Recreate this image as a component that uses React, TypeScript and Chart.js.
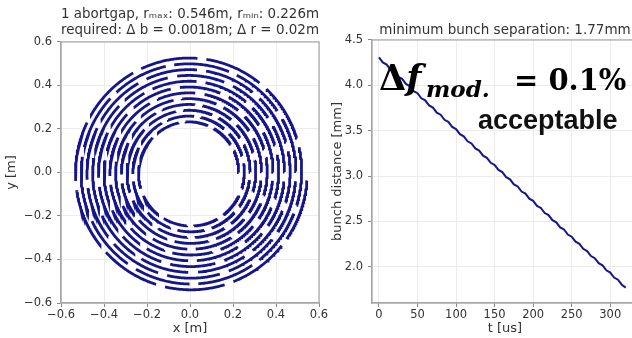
import React, { useEffect, useRef } from "react";
import { Chart, registerables } from "chart.js";

Chart.register(...registerables);

// ---------- data ----------
// spiral of the orbit (left panel)
const spiralRadii = [0.226, 0.546]; // r_min, r_max [m]
const spiralTurns = [12];
const spiralStartDeg = [0];
const spiralDashesPerTurn = [10.5];
const spiralGapFraction = [0.22, 0.11]; // gap share of a dash period, inner -> outer
const leftXTicks = [-0.6, -0.4, -0.2, 0.0, 0.2, 0.4, 0.6];
const leftYTicks = [-0.6, -0.4, -0.2, 0.0, 0.2, 0.4, 0.6];

// bunch distance over time (right panel)
const timeUs = [
  0, 5, 10, 15, 20, 25, 30, 35, 40, 45, 50, 55, 60, 65, 70, 75, 80, 85, 90, 95,
  100, 105, 110, 115, 120, 125, 130, 135, 140, 145, 150, 155, 160, 165, 170, 175,
  180, 185, 190, 195, 200, 205, 210, 215, 220, 225, 230, 235, 240, 245, 250, 255,
  260, 265, 270, 275, 280, 285, 290, 295, 300, 305, 310, 315, 320,
];
const bunchDistanceMm = [
  4.308, 4.252, 4.229, 4.173, 4.15, 4.094, 4.071, 4.015, 3.992, 3.936, 3.913,
  3.857, 3.834, 3.778, 3.755, 3.699, 3.676, 3.62, 3.597, 3.541, 3.517, 3.462,
  3.438, 3.383, 3.359, 3.304, 3.28, 3.225, 3.201, 3.146, 3.122, 3.067, 3.043,
  2.988, 2.964, 2.908, 2.885, 2.829, 2.806, 2.75, 2.727, 2.671, 2.648, 2.592,
  2.569, 2.513, 2.49, 2.434, 2.411, 2.355, 2.331, 2.276, 2.252, 2.197, 2.173,
  2.118, 2.094, 2.039, 2.015, 1.96, 1.936, 1.881, 1.857, 1.802, 1.77,
];
const rightXTicks = [0, 50, 100, 150, 200, 250, 300];
const rightYTicks = [2.0, 2.5, 3.0, 3.5, 4.0, 4.5];

const leftTitle = [
  "1 abortgap, r\u2098\u2090\u2093: 0.546m, r\u2098\u1D62\u2099: 0.226m",
  "required: \u0394 b = 0.0018m; \u0394 r = 0.02m",
];
const rightTitle = "minimum bunch separation: 1.77mm";

// ---------- style ----------
const NAVY = "#16168a";
const TEXT = "#333333";
const GRID = "#ececec";
const FRAME = "#a6a6a6";
const SANS = "'DejaVu Sans', sans-serif";

const fmt = (v: number) =>
  (Math.abs(v) < 1e-9 ? "0.0" : v.toFixed(1)).replace("-", "\u2212");

const framePlugin = {
  id: "frame",
  afterDatasetsDraw(chart: any) {
    const { ctx, chartArea } = chart;
    ctx.save();
    ctx.strokeStyle = FRAME;
    ctx.lineWidth = 1.2;
    ctx.strokeRect(
      chartArea.left,
      chartArea.top,
      chartArea.right - chartArea.left,
      chartArea.bottom - chartArea.top
    );
    ctx.restore();
  },
};

function buildSpiral() {
  const rMin = spiralRadii[0];
  const rMax = spiralRadii[1];
  const total = 2 * Math.PI * spiralTurns[0];
  const start = (spiralStartDeg[0] * Math.PI) / 180;
  const period = (2 * Math.PI) / spiralDashesPerTurn[0];
  const pts: { x: number; y: number | null }[] = [];
  let inGap = false;
  for (let a = 0; a <= total + 1e-9; a += 0.01) {
    const f = a / total;
    const r = rMin + (rMax - rMin) * f;
    const gap = spiralGapFraction[0] + (spiralGapFraction[1] - spiralGapFraction[0]) * f;
    const phase = (a / period) % 1;
    const x = r * Math.cos(start + a);
    const y = r * Math.sin(start + a);
    if (phase > 1 - gap) {
      if (!inGap) {
        pts.push({ x, y: null });
        inGap = true;
      }
    } else {
      inGap = false;
      pts.push({ x, y });
    }
  }
  return pts;
}

function axisCommon(ticksArr: number[], formatter: (v: number) => string, pad: number) {
  return {
    type: "linear" as const,
    afterBuildTicks: (s: any) => {
      s.ticks = ticksArr.map((v) => ({ value: v }));
    },
    ticks: {
      callback: (v: any) => formatter(Number(v)),
      font: { family: SANS, size: 11.5 },
      color: TEXT,
      autoSkip: false,
      maxRotation: 0,
      padding: pad,
    },
    grid: { color: GRID, tickColor: "#888", tickLength: 4, lineWidth: 1 },
    border: { color: FRAME, width: 1.2 },
  };
}

const axisTitle = (text: string, padding: any) => ({
  display: true,
  text,
  color: TEXT,
  font: { family: SANS, size: 13, lineHeight: 1.2 },
  padding,
});

export default function App() {
  const leftRef = useRef<HTMLCanvasElement>(null);
  const rightRef = useRef<HTMLCanvasElement>(null);

  useEffect(() => {
    const left = new Chart(leftRef.current as HTMLCanvasElement, {
      type: "scatter",
      data: {
        datasets: [
          {
            data: buildSpiral(),
            showLine: true,
            spanGaps: false,
            borderColor: NAVY,
            borderWidth: 2.8,
            borderCapStyle: "butt",
            pointRadius: 0,
            fill: false,
          } as any,
        ],
      },
      options: {
        animation: false,
        responsive: false,
        maintainAspectRatio: false,
        events: [],
        layout: { padding: { left: 0, right: 11, top: 0, bottom: 0 } },
        plugins: {
          legend: { display: false },
          tooltip: { enabled: false },
          title: {
            display: true,
            text: leftTitle,
            fullSize: false,
            color: TEXT,
            font: { family: SANS, size: 13.5, weight: "normal", lineHeight: 1.25 },
            padding: { top: 5.6, bottom: 2.6 },
          },
        },
        scales: {
          x: {
            ...axisCommon(leftXTicks, fmt, 1),
            min: -0.6,
            max: 0.6,
            title: axisTitle("x [m]", { top: 0, bottom: 1.2 }),
            afterFit: (s: any) => {
              s.height = 35;
            },
          },
          y: {
            ...axisCommon(leftYTicks, fmt, 5),
            min: -0.6,
            max: 0.6,
            title: axisTitle("y [m]", { top: 4, bottom: 0 }),
            afterFit: (s: any) => {
              s.width = 61;
            },
          },
        },
      } as any,
      plugins: [framePlugin],
    });

    const right = new Chart(rightRef.current as HTMLCanvasElement, {
      type: "scatter",
      data: {
        datasets: [
          {
            data: timeUs.map((t, i) => ({ x: t, y: bunchDistanceMm[i] })),
            showLine: true,
            borderColor: NAVY,
            borderWidth: 2,
            pointRadius: 0,
            fill: false,
          } as any,
        ],
      },
      options: {
        animation: false,
        responsive: false,
        maintainAspectRatio: false,
        events: [],
        layout: { padding: { left: 0, right: 4, top: 0, bottom: 0 } },
        plugins: {
          legend: { display: false },
          tooltip: { enabled: false },
          title: {
            display: true,
            text: rightTitle,
            fullSize: false,
            color: TEXT,
            font: { family: SANS, size: 13.5, weight: "normal", lineHeight: 1.25 },
            padding: { top: 22, bottom: 1.1 },
          },
        },
        scales: {
          x: {
            ...axisCommon(rightXTicks, (v) => String(Math.round(v)), 1),
            min: -9,
            max: 336,
            title: axisTitle("t [us]", { top: 0, bottom: 1.2 }),
            afterFit: (s: any) => {
              s.height = 35;
            },
          },
          y: {
            ...axisCommon(rightYTicks, fmt, 5),
            min: 1.6,
            max: 4.5,
            title: axisTitle("bunch distance [mm]", { top: 0, bottom: 0 }),
            afterFit: (s: any) => {
              s.width = 42;
            },
          },
        },
      } as any,
      plugins: [framePlugin],
    });

    return () => {
      left.destroy();
      right.destroy();
    };
  }, []);

  const mathBase: React.CSSProperties = {
    position: "absolute",
    fontFamily: "'DejaVu Serif', serif",
    fontWeight: "bold",
    color: "#000",
    whiteSpace: "nowrap",
  };

  return (
    <div
      style={{
        position: "absolute",
        left: 0,
        top: 0,
        width: 632,
        height: 338,
        overflow: "hidden",
        background: "#fff",
      }}
    >
      <canvas
        ref={leftRef}
        width={330}
        height={338}
        style={{ position: "absolute", left: 0, top: 0, width: 330, height: 338 }}
      />
      <canvas
        ref={rightRef}
        width={312}
        height={338}
        style={{ position: "absolute", left: 330, top: 0, width: 312, height: 338 }}
      />
      <span style={{ ...mathBase, left: 379, top: 60, fontSize: 35, lineHeight: "35px" }}>
        {"\u0394"}
        <span style={{ fontStyle: "italic" }}>f</span>
      </span>
      <span
        style={{
          ...mathBase,
          left: 426,
          top: 77,
          fontSize: 23,
          lineHeight: "23px",
          fontStyle: "italic",
        }}
      >
        mod.
      </span>
      <span style={{ ...mathBase, left: 514, top: 65.5, fontSize: 29, lineHeight: "29px" }}>
        = 0.1%
      </span>
      <span
        style={{
          position: "absolute",
          left: 478,
          top: 107,
          fontFamily: "'Liberation Sans', Arial, sans-serif",
          fontWeight: "bold",
          fontSize: 27,
          lineHeight: "27px",
          color: "#111",
          whiteSpace: "nowrap",
        }}
      >
        acceptable
      </span>
    </div>
  );
}
